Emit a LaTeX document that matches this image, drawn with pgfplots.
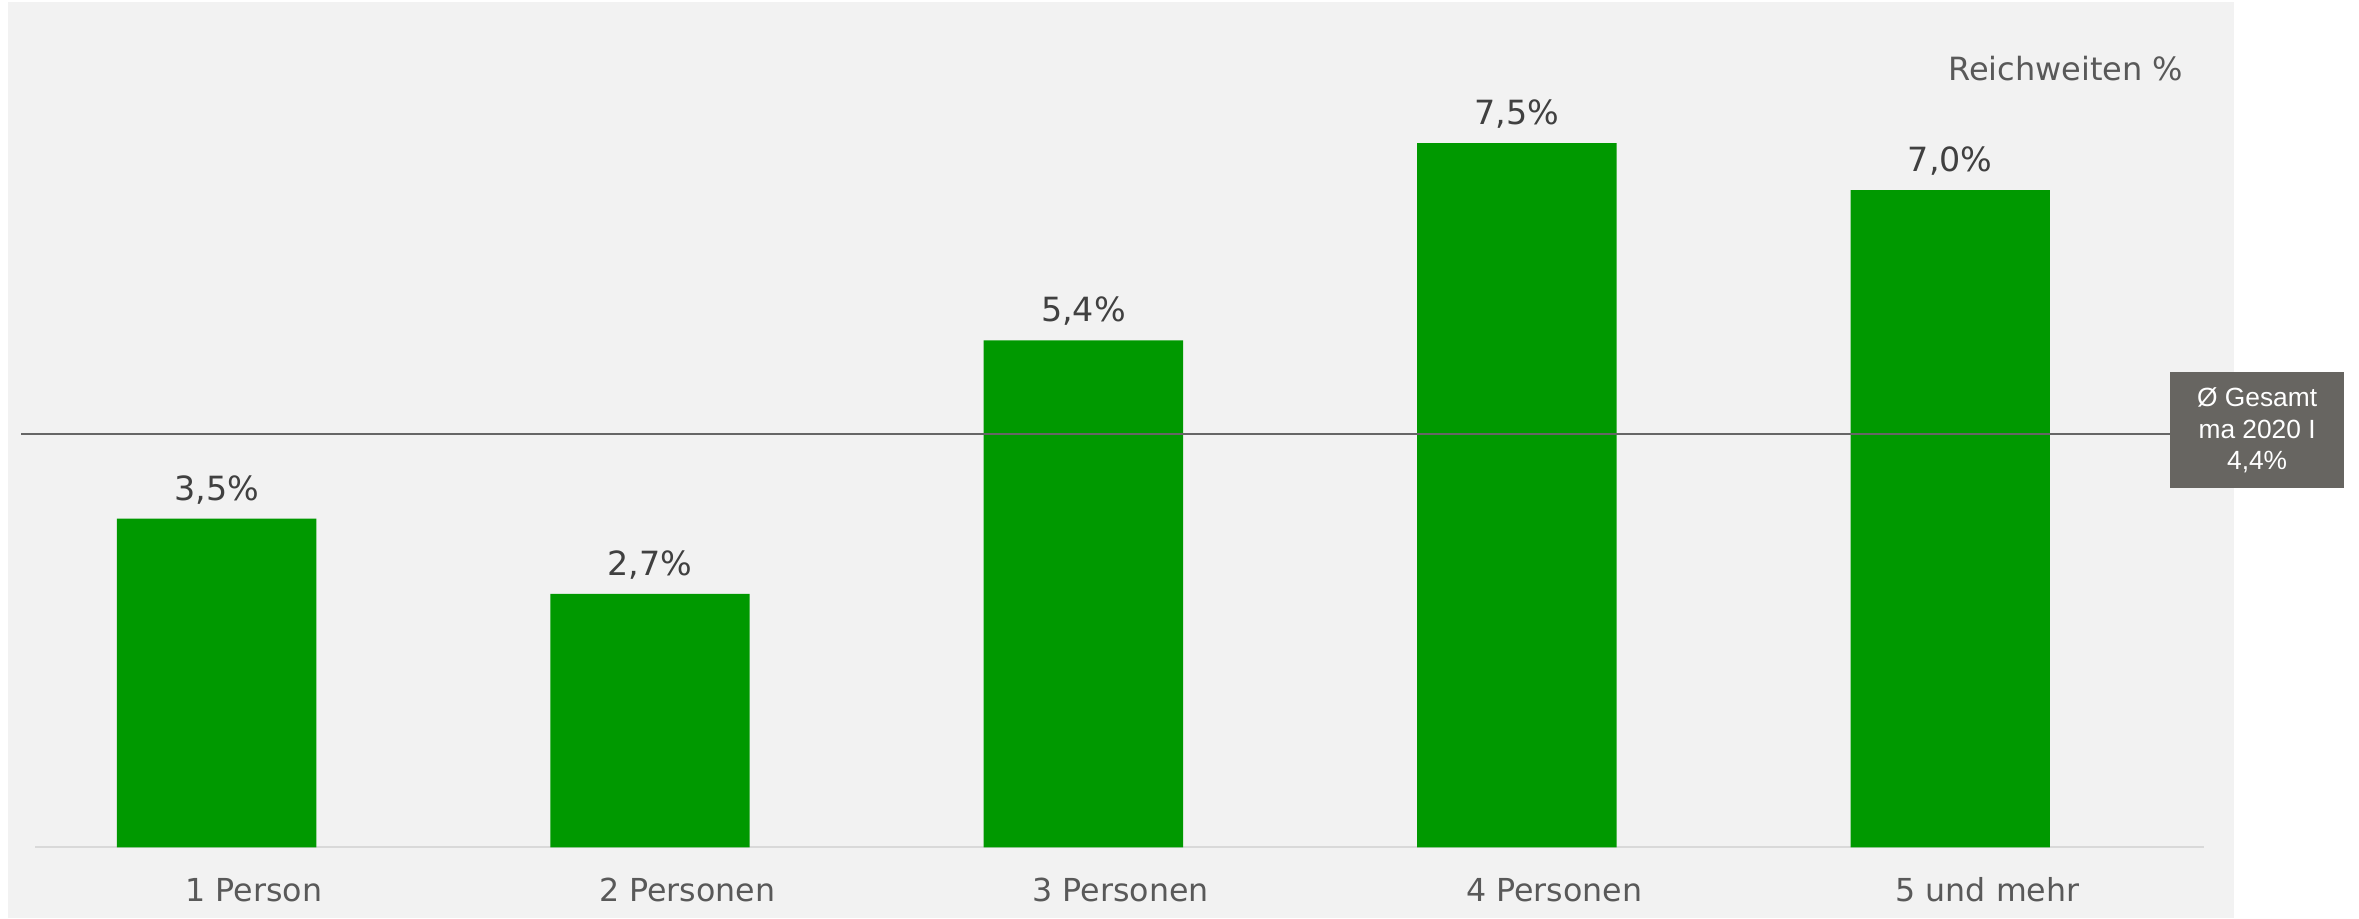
\documentclass[border=0pt]{standalone}
\usepackage{pgfplots}
\pgfplotsset{compat=1.18}
\usepackage{fontspec}
\setmainfont{DejaVu Sans}
\newfontfamily\arialfont{Liberation Sans}
\definecolor{bggrey}{HTML}{F2F2F2}
\definecolor{bargreen}{HTML}{009900}
\definecolor{lblgrey}{HTML}{595959}
\definecolor{valgrey}{HTML}{404040}
\definecolor{avggrey}{HTML}{666666}
\definecolor{boxgrey}{HTML}{676561}
\definecolor{axgrey}{HTML}{D9D9D9}
\begin{document}
\begin{tikzpicture}
\begin{axis}[
  set layers,
  scale only axis, width=707.7pt, height=275.4pt,
  xmin=-0.49977, xmax=4.9432, ymin=-0.7561, ymax=9.0202,
  axis line style={draw=none},
  ytick=\empty, xtick={0,1,2,3,4},
  xticklabels={1 Person, 2 Personen, 3 Personen, 4 Personen, 5 und mehr},
  major tick length=0pt,
  xticklabel style={anchor=base, yshift=5.0pt, xshift=11.2pt,
    font=\fontsize{9.5pt}{11pt}\selectfont, text=lblgrey},
  clip=false,
  /pgf/number format/assume math mode=true,
]
\begin{pgfonlayer}{axis background}
  \fill[bggrey] (rel axis cs:0.00339,0) rectangle (rel axis cs:0.947,0.9978);
\end{pgfonlayer}
\path (rel axis cs:0,0) rectangle (rel axis cs:1,1);
\addplot[axgrey, line width=0.6pt, forget plot] coordinates {(-0.419,0) (4.586,0)};
\addplot[ybar, bar width=0.46, fill=bargreen, draw=none,
  nodes near coords={\pgfmathprintnumber[fixed,fixed zerofill,precision=1,use comma]{\pgfplotspointmeta}\%},
  every node near coord/.append style={anchor=base, yshift=5.6pt,
    font=\fontsize{10pt}{12pt}\selectfont, text=valgrey}]
  coordinates {(0,3.5) (1,2.7) (2,5.4) (3,7.5) (4,7.0)};
\addplot[avggrey, line width=0.5pt] coordinates {(-0.4513,4.4) (4.507,4.4)};
\node[anchor=base east, font=\fontsize{9.6pt}{11.5pt}\selectfont, text=lblgrey]
  at (rel axis cs:0.9305,0.9129) {Reichweiten \%};
\node[fill=boxgrey, text=white, minimum width=52.2pt, minimum height=34.8pt,
  inner sep=0pt, align=center, font=\arialfont\fontsize{7.9pt}{9.5pt}\selectfont]
  at (rel axis cs:0.9568,0.5316) {Ø Gesamt\\ma 2020 I\\4,4\%};
\end{axis}
\end{tikzpicture}
\end{document}
